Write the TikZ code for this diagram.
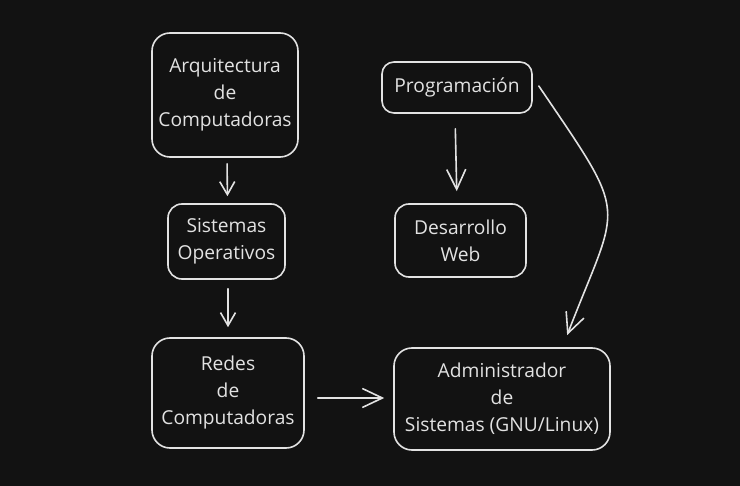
\documentclass[tikz,border=0pt]{standalone}
\usepackage{fontspec}
\setmainfont{Open Sans}
\usetikzlibrary{arrows.meta,calc}
\definecolor{bg}{HTML}{121212}
\definecolor{ink}{HTML}{E2E2E2}
\tikzset{
  x=1pt,y=-1pt,
  box/.style={draw=ink,line width=1.6pt,rounded corners=18pt,text=ink,align=center,
    inner sep=0pt,font=\fontsize{19.2}{27}\selectfont},
  conn/.style={draw=ink,line width=1.6pt,line cap=round},
  small/.style={conn,-{Straight Barb[length=13pt,width=15pt,line width=1.6pt]}},
  big/.style={conn,-{Straight Barb[length=20pt,width=19pt,line width=1.6pt]}}
}
\begin{document}
\begin{tikzpicture}
\fill[bg] (0,0) rectangle (740,486);
\useasboundingbox (0,0) rectangle (740,486);
\node[box,minimum width=146pt,minimum height=124pt] (arq) at (225,95) {Arquitectura\\de\\Computadoras};
\node[box,minimum width=117pt,minimum height=75pt,rounded corners=14pt] (so) at (226.5,241.5) {Sistemas\\Operativos};
\node[box,minimum width=152pt,minimum height=110pt] (redes) at (228,393) {Redes\\de\\Computadoras};
\node[box,minimum width=150pt,minimum height=51pt,rounded corners=12pt] (prog) at (457,87.5) {Programación};
\node[box,minimum width=131pt,minimum height=73pt,rounded corners=14pt] (web) at (460.5,240.5) {Desarrollo\\Web};
\node[box,minimum width=216pt,minimum height=102pt] (admin) at (502,399) {Administrador\\de\\Sistemas (GNU/Linux)};
\coordinate (admtop) at ($(admin.north west)!0.778!(admin.north east)$);
\draw[small,shorten <=6pt,shorten >=7pt] ([xshift=2pt]arq.south) -- ([xshift=1pt]so.north);
\draw[small,shorten <=9pt,shorten >=10pt] ([xshift=1.5pt]so.south) -- (redes.north);
\draw[big,shorten <=13pt,shorten >=9pt] ([yshift=-5pt]redes.east) -- ([yshift=1pt]admin.west);
\draw[big,shorten <=15pt,shorten >=12pt] ([xshift=-2pt]prog.south) -- ([xshift=-3.5pt]web.north);
\draw[big,shorten >=13pt] ([xshift=6pt,yshift=1.5pt]prog.east) .. controls (631,222) and (620,198) .. (admtop);
\end{tikzpicture}
\end{document}
